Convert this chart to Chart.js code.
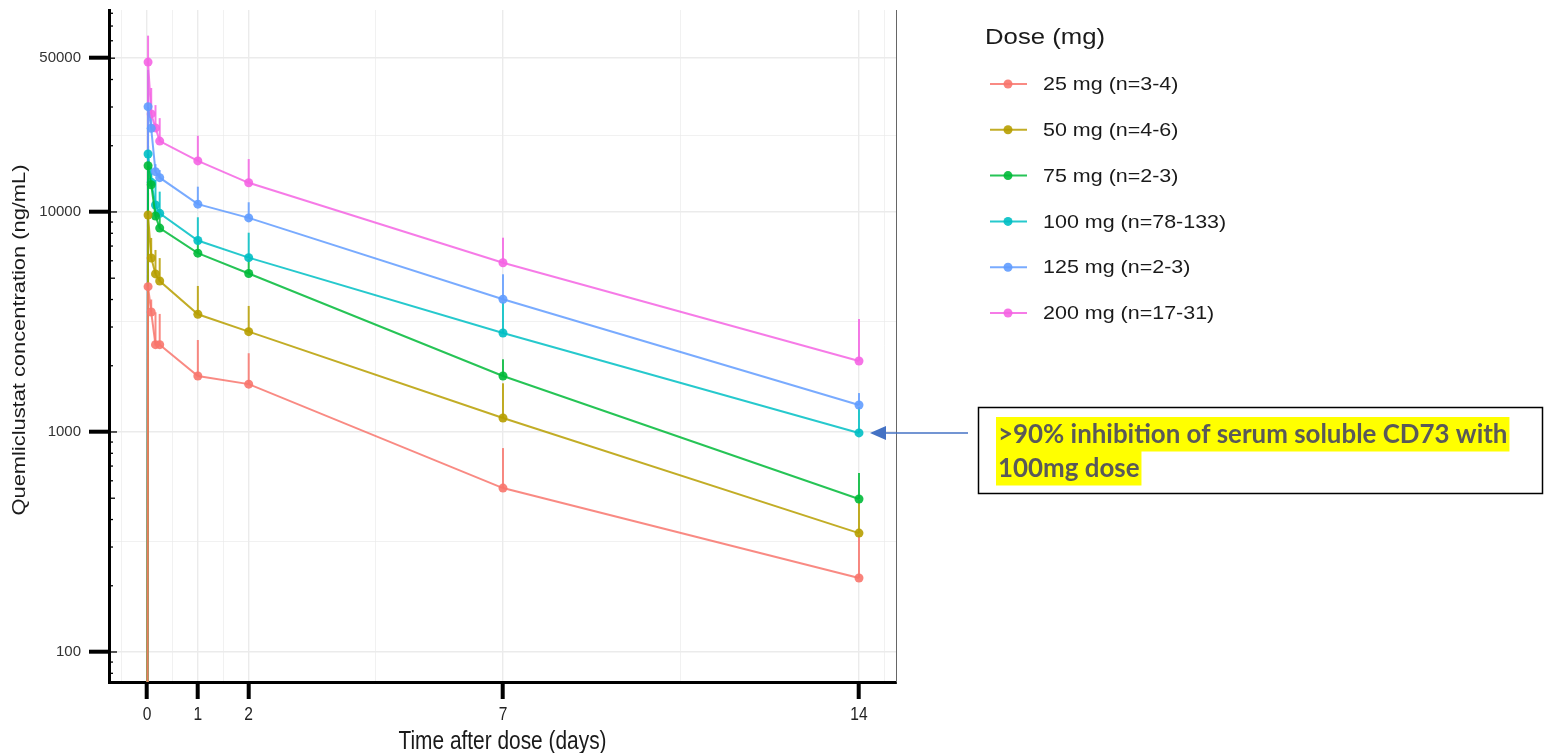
<!DOCTYPE html>
<html>
<head>
<meta charset="utf-8">
<title>Quemliclustat PK</title>
<script src="https://cdn.jsdelivr.net/npm/chart.js@4.4.1/dist/chart.umd.min.js"></script>
<style>
  html, body { margin: 0; padding: 0; background: #fff; }
  #wrap { position: relative; width: 1544px; height: 753px; }
</style>
</head>
<body>
<div id="wrap"><canvas id="pkChart" width="1544" height="753"></canvas></div>
<script>
// sampling times (days), first one is pre-dose
const times = [0, 0.021, 0.083, 0.167, 0.25, 1, 2, 7, 14]

const doseLabels = ['25 mg (n=3-4)', '50 mg (n=4-6)', '75 mg (n=2-3)', '100 mg (n=78-133)', '125 mg (n=2-3)', '200 mg (n=17-31)']
const doseColors = ['#F8766D', '#B79F00', '#00BA38', '#00BFC4', '#619CFF', '#F564E3']

// mean concentration (ng/mL)
const conc25  = [1, 4575, 3510, 2494, 2494, 1797, 1650, 556, 217]
const conc50  = [1, 9690, 6180, 5230, 4855, 3428, 2857, 1158, 347]
const conc75  = [1, 16230, 13300, 9590, 8450, 6500, 5250, 1797, 496]
const conc100 = [1, 18350, 13650, 10760, 9860, 7420, 6200, 2818, 990]
const conc125 = [1, 30100, 24000, 15250, 14320, 10850, 9400, 4010, 1326]
const conc200 = [1, 48000, 27900, 24100, 21000, 17060, 13570, 5880, 2102]

// mean + SD (upper end of the error bar)
const upper25  = [null, 5500, 4000, 3500, 3440, 2618, 2280, 845, 340]
const upper50  = [null, 12200, 7620, 6720, 6170, 4610, 3740, 1665, 490]
const upper75  = [null, 20000, 15000, 11000, 9500, 7400, 6100, 2140, 651]
const upper100 = [null, 23600, 16000, 13970, 12370, 9460, 8050, 3900, 1300]
const upper125 = [null, 44200, 27000, 16500, 15500, 13030, 11070, 5210, 1503]
const upper200 = [null, 63300, 36600, 30600, 26700, 22200, 17400, 7640, 3263]

const concAll  = [conc25, conc50, conc75, conc100, conc125, conc200]
const upperAll = [upper25, upper50, upper75, upper100, upper125, upper200]

// axis breaks
const xMajorTicks = [0, 1, 2, 7, 14]
const xMinorGrid  = [-0.5, 0.5, 1.5, 4.5, 10.5, 14.5]
const yMajorTicks = [100, 1000, 10000, 50000]
const yMinorGrid  = [316.2, 3162.3, 22360.7]
const yLogTicks   = [80, 90, 100, 200, 300, 400, 500, 600, 700, 800, 900,
                     1000, 2000, 3000, 4000, 5000, 6000, 7000, 8000, 9000,
                     10000, 20000, 30000, 40000, 50000, 60000, 70000, 80000]

const xTitle = 'Time after dose (days)'
const yTitle = 'Quemliclustat concentration (ng/mL)'
const legendTitle = 'Dose (mg)'
const noteLines = ['>90% inhibition of serum soluble CD73 with', '100mg dose']

const fontMain = "'Liberation Sans', Arial, sans-serif"

const withAlpha = (hex, a) => {
  const n = parseInt(hex.slice(1), 16)
  return `rgba(${n >> 16}, ${(n >> 8) & 255}, ${n & 255}, ${a})`
}

// text squeezed or widened along its own baseline
const drawText = (ctx, text, x, y, opts) => {
  ctx.save()
  ctx.translate(x, y)
  if (opts.rotate) ctx.rotate(opts.rotate)
  ctx.scale(opts.sx || 1, 1)
  ctx.font = opts.font
  ctx.fillStyle = opts.color || '#1a1a1a'
  ctx.textAlign = opts.align || 'left'
  ctx.textBaseline = 'middle'
  ctx.fillText(text, 0, 0)
  ctx.restore()
}

let datasets = concAll.map((conc, d) => ({
  label: doseLabels[d],
  data: times.map((t, i) => ({ x: t, y: conc[i] })),
  upper: upperAll[d],
  borderColor: withAlpha(doseColors[d], 0.85),
  backgroundColor: withAlpha(doseColors[d], 0.9),
  borderWidth: 2,
  pointRadius: 4.5,
  pointBorderWidth: 0,
  tension: 0,
  clip: 0
}))

// vertical SD bars, drawn under the lines
const errorBars = {
  id: 'errorBars',
  beforeDatasetsDraw(chart) {
    const { ctx, chartArea: a, scales: { x, y } } = chart
    ctx.save()
    ctx.beginPath()
    ctx.rect(a.left, a.top, a.right - a.left, a.bottom - a.top)
    ctx.clip()
    ctx.lineWidth = 2
    chart.data.datasets.forEach(ds => {
      ctx.strokeStyle = ds.borderColor
      ds.upper.forEach((u, i) => {
        if (u == null) return
        const px = x.getPixelForValue(ds.data[i].x)
        ctx.beginPath()
        ctx.moveTo(px, y.getPixelForValue(ds.data[i].y))
        ctx.lineTo(px, y.getPixelForValue(u))
        ctx.stroke()
      })
    })
    ctx.restore()
  }
}

// log ticks inside the y axis, panel border, axis texts
const panelExtras = {
  id: 'panelExtras',
  afterDatasetsDraw(chart) {
    const { ctx, chartArea: a, scales: { x, y } } = chart
    ctx.save()
    ctx.strokeStyle = '#000'
    ctx.lineWidth = 1.3
    yLogTicks.forEach(v => {
      const py = y.getPixelForValue(v)
      if (py < a.top || py > a.bottom) return
      const lead = String(v)[0]
      const len = lead === '1' ? 8 : (lead === '5' ? 6 : 4)
      ctx.beginPath()
      ctx.moveTo(a.left, py)
      ctx.lineTo(a.left + len, py)
      ctx.stroke()
    })
    ctx.strokeStyle = '#666'
    ctx.lineWidth = 1
    ctx.beginPath()
    ctx.moveTo(a.right + 0.5, a.top)
    ctx.lineTo(a.right + 0.5, a.bottom)
    ctx.stroke()
    ctx.restore()

    // x tick labels and axis titles
    xMajorTicks.forEach(v => {
      drawText(ctx, String(v), x.getPixelForValue(v), 715, { font: `19px ${fontMain}`, sx: 0.82, align: 'center', color: '#222' })
    })
    drawText(ctx, xTitle, (a.left + a.right) / 2, 742, { font: `25px ${fontMain}`, sx: 0.835, align: 'center' })
    drawText(ctx, yTitle, 20, 340, { font: `19px ${fontMain}`, sx: 1.15, align: 'center', rotate: -Math.PI / 2 })
  }
}

// legend and call-out box
const sideNotes = {
  id: 'sideNotes',
  afterDraw(chart) {
    const { ctx, scales: { x, y } } = chart
    ctx.save()

    // legend
    drawText(ctx, legendTitle, 985, 38, { font: `22px ${fontMain}`, sx: 1.17 })
    chart.data.datasets.forEach((ds, d) => {
      const ly = 84 + d * 45.8
      ctx.strokeStyle = ds.borderColor
      ctx.lineWidth = 2
      ctx.beginPath()
      ctx.moveTo(990, ly)
      ctx.lineTo(1027, ly)
      ctx.stroke()
      ctx.fillStyle = ds.backgroundColor
      ctx.beginPath()
      ctx.arc(1008, ly, 4.5, 0, Math.PI * 2)
      ctx.fill()
      drawText(ctx, ds.label, 1043, ly + 1, { font: `19px ${fontMain}`, sx: 1.13 })
    })

    // arrow to the 100 mg day-14 point
    const tipX = x.getPixelForValue(14) + 11
    const tipY = y.getPixelForValue(conc100[conc100.length - 1])
    ctx.strokeStyle = '#4472C4'
    ctx.fillStyle = '#4472C4'
    ctx.lineWidth = 1.5
    ctx.beginPath()
    ctx.moveTo(968, tipY)
    ctx.lineTo(tipX + 12, tipY)
    ctx.stroke()
    ctx.beginPath()
    ctx.moveTo(tipX, tipY)
    ctx.lineTo(tipX + 16, tipY - 7)
    ctx.lineTo(tipX + 16, tipY + 7)
    ctx.closePath()
    ctx.fill()

    // box
    ctx.strokeStyle = '#000'
    ctx.lineWidth = 1.5
    ctx.strokeRect(978.5, 407.5, 564, 86)

    // highlighted text
    const boxFont = "'Lato', 'Open Sans', sans-serif"
    ctx.font = `bold 22px ${boxFont}`
    const fit = 22 * 510 / ctx.measureText(noteLines[0]).width
    ctx.font = `bold ${fit.toFixed(1)}px ${boxFont}`
    ctx.textBaseline = 'middle'
    ctx.textAlign = 'left'
    noteLines.forEach((line, i) => {
      const top = 417 + i * 34
      const w = ctx.measureText(line).width
      ctx.fillStyle = '#FFFF00'
      ctx.fillRect(996, top, w + 4, 34.5)
      ctx.fillStyle = '#595959'
      ctx.fillText(line, 998, top + 18)
    })
    ctx.restore()
  }
}

const ctx = document.getElementById('pkChart').getContext('2d')

// x scale
let scales_x = {
  type: 'linear',
  min: -0.747,
  max: 14.728,
  afterBuildTicks: scale => {
    scale.ticks = [...xMinorGrid, ...xMajorTicks].sort((a, b) => a - b).map(v => ({ value: v }))
  },
  afterFit: scale => {
    scale.height = 71
    scale.paddingLeft = 0
    scale.paddingRight = 0
  },
  ticks: { display: false },
  grid: {
    color: '#EBEBEB',
    lineWidth: c => xMajorTicks.includes(c.tick && c.tick.value) ? 1.4 : 0.7,
    tickLength: 17,
    tickWidth: 4,
    tickColor: c => xMajorTicks.includes(c.tick && c.tick.value) ? '#000' : 'rgba(0,0,0,0)'
  },
  border: { display: true, color: '#000', width: 3 }
}

// y scale
let scales_y = {
  type: 'logarithmic',
  min: 73.05,
  max: 82790,
  afterBuildTicks: scale => {
    scale.ticks = [...yMajorTicks, ...yMinorGrid].sort((a, b) => a - b).map(v => ({ value: v }))
  },
  afterFit: scale => {
    scale.width = 109
    scale.paddingTop = 0
    scale.paddingBottom = 0
  },
  ticks: {
    autoSkip: false,
    padding: 8,
    color: '#333',
    font: { family: fontMain, size: 15 },
    callback: value => yMajorTicks.includes(value) ? String(value) : ''
  },
  grid: {
    color: '#EBEBEB',
    lineWidth: c => yMajorTicks.includes(c.tick && c.tick.value) ? 1.4 : 0.7,
    tickLength: 20,
    tickWidth: 4,
    tickColor: c => yMajorTicks.includes(c.tick && c.tick.value) ? '#000' : 'rgba(0,0,0,0)'
  },
  border: { display: true, color: '#000', width: 3 }
}

let pkChart = new Chart(ctx, {
  type: 'line',
  data: { datasets: datasets },
  options: {
    responsive: false,
    animation: false,
    devicePixelRatio: 1,
    layout: { padding: { left: 0, top: 10, right: 648, bottom: 0 } },
    plugins: {
      legend: { display: false },
      tooltip: { enabled: false }
    },
    scales: { x: scales_x, y: scales_y }
  },
  plugins: [errorBars, panelExtras, sideNotes]
})
</script>
</body>
</html>
